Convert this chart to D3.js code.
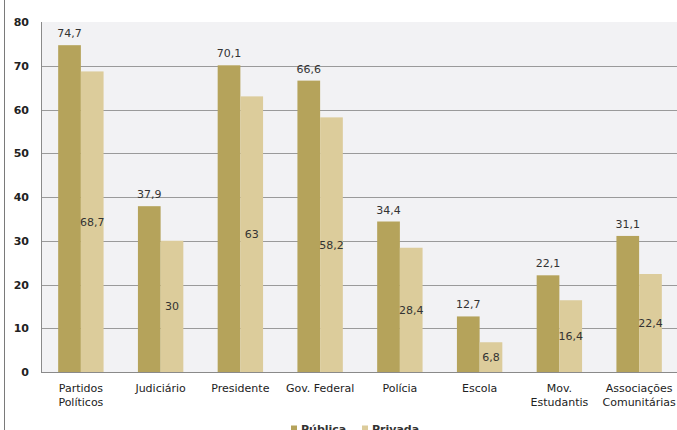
<!DOCTYPE html>
<html>
<head>
<meta charset="utf-8">
<script src="https://cdn.jsdelivr.net/npm/d3@7"></script>
<style>
  body { margin: 0; background: #fff; }
  svg { display: block; font-family: "DejaVu Sans", Verdana, sans-serif; }
</style>
</head>
<body>
<div id="chart"></div>
<script>
//  data
var categories = ["Partidos\nPolíticos", "Judiciário", "Presidente", "Gov. Federal", "Polícia", "Escola", "Mov.\nEstudantis", "Associações\nComunitárias"];
var series = ["Pública", "Privada"];
var publica = [74.7, 37.9, 70.1, 66.6, 34.4, 12.7, 22.1, 31.1];
var privada = [68.7, 30, 63, 58.2, 28.4, 6.8, 16.4, 22.4];
var yTicks = [0, 10, 20, 30, 40, 50, 60, 70, 80];

var colors = ["#b5a35b", "#dccc9b"];
var fmt = v => String(v).replace(".", ",");

function draw_chart() {
  const w = 677, h = 430;
  const margin = {top: 22, right: -2, bottom: 58, left: 41};

  const svg = d3.select("#chart").append("svg").attr("width", w).attr("height", h);

  const x = d3.scaleBand().domain(categories).range([margin.left, w - margin.right]).paddingInner(0).paddingOuter(0);
  const xs = d3.scaleBand().domain(series).range([0, 45.4]);
  const off = (x.bandwidth() - 45.4) / 2;
  const y = d3.scaleLinear().domain([0, 80]).range([h - margin.bottom, margin.top]);

  // frame line on the left
  svg.append("line").attr("x1", 4.5).attr("x2", 4.5).attr("y1", 0).attr("y2", h)
     .attr("stroke", "#7a7a7a").attr("stroke-width", 1);

  // plot background
  svg.append("rect").attr("x", margin.left).attr("y", y(80))
     .attr("width", w - margin.left).attr("height", y(0) - y(80))
     .attr("fill", "#f2f2f4");

  // gridlines
  svg.append("g").selectAll("line").data(yTicks.filter(d => d > 0 && d < 80)).enter()
     .append("line")
     .attr("x1", margin.left).attr("x2", w)
     .attr("y1", d => Math.round(y(d)) + 0.5).attr("y2", d => Math.round(y(d)) + 0.5)
     .attr("stroke", "#9a9a9a").attr("stroke-width", 1);

  // bars
  const data = categories.map((c, i) => ({cat: c, vals: [publica[i], privada[i]]}));
  const groups = svg.append("g").selectAll("g").data(data).enter()
     .append("g").attr("transform", d => `translate(${x(d.cat) + off},0)`);

  groups.selectAll("rect").data(d => d.vals.map((v, j) => ({s: series[j], v: v, j: j}))).enter()
     .append("rect")
     .attr("x", d => xs(d.s))
     .attr("y", d => y(d.v))
     .attr("width", xs.bandwidth())
     .attr("height", d => y(0) - y(d.v))
     .attr("fill", d => colors[d.j]);

  // value labels
  groups.selectAll("text").data(d => d.vals.map((v, j) => ({s: series[j], v: v, j: j}))).enter()
     .append("text")
     .attr("x", d => xs(d.s) + xs.bandwidth() / 2)
     .attr("y", d => d.j == 0 ? y(d.v) - 8 : (y(d.v) + y(0)) / 2 + 4)
     .attr("text-anchor", "middle")
     .style("font-size", "11px")
     .attr("fill", "#333")
     .text(d => fmt(d.v));

  // axes lines
  svg.append("line").attr("x1", margin.left + 0.5).attr("x2", margin.left + 0.5)
     .attr("y1", y(80)).attr("y2", y(0)).attr("stroke", "#8a8a8a");
  svg.append("line").attr("x1", margin.left).attr("x2", w)
     .attr("y1", y(0) + 0.5).attr("y2", y(0) + 0.5).attr("stroke", "#8a8a8a");

  // y axis labels
  const yAxis = g => g
      .attr("transform", `translate(${margin.left},0)`)
      .call(d3.axisLeft(y).tickValues(yTicks).tickSize(0).tickPadding(12))
      .call(g => g.select(".domain").remove())
      .call(g => g.selectAll("text").style("font-size", "11px").style("font-weight", "bold")
                  .attr("fill", "#222").style("font-family", "DejaVu Sans, Verdana, sans-serif"));
  svg.append("g").call(yAxis);

  // category labels
  const cl = svg.append("g").selectAll("text").data(categories).enter()
     .append("text")
     .attr("x", d => x(d) + x.bandwidth() / 2)
     .attr("y", y(0) + 20)
     .attr("text-anchor", "middle")
     .style("font-size", "11px")
     .attr("fill", "#222");
  cl.each(function(d) {
    const lines = d.split("\n");
    lines.forEach((t, i) => {
      d3.select(this).append("tspan")
        .attr("x", x(d) + x.bandwidth() / 2)
        .attr("dy", i == 0 ? 0 : 14)
        .text(t);
    });
  });

  // legend
  const lx = [291, 362];
  const leg = svg.append("g").selectAll("g").data(series).enter().append("g");
  leg.append("rect")
     .attr("x", (d, i) => lx[i]).attr("y", 425.5)
     .attr("width", 6).attr("height", 6)
     .attr("fill", (d, i) => colors[i]);
  leg.append("text")
     .attr("x", (d, i) => lx[i] + 10).attr("y", 433)
     .style("font-size", "11px").style("font-weight", "bold")
     .attr("fill", "#333")
     .text(d => d);

  return svg.node();
}

draw_chart();
</script>
</body>
</html>
